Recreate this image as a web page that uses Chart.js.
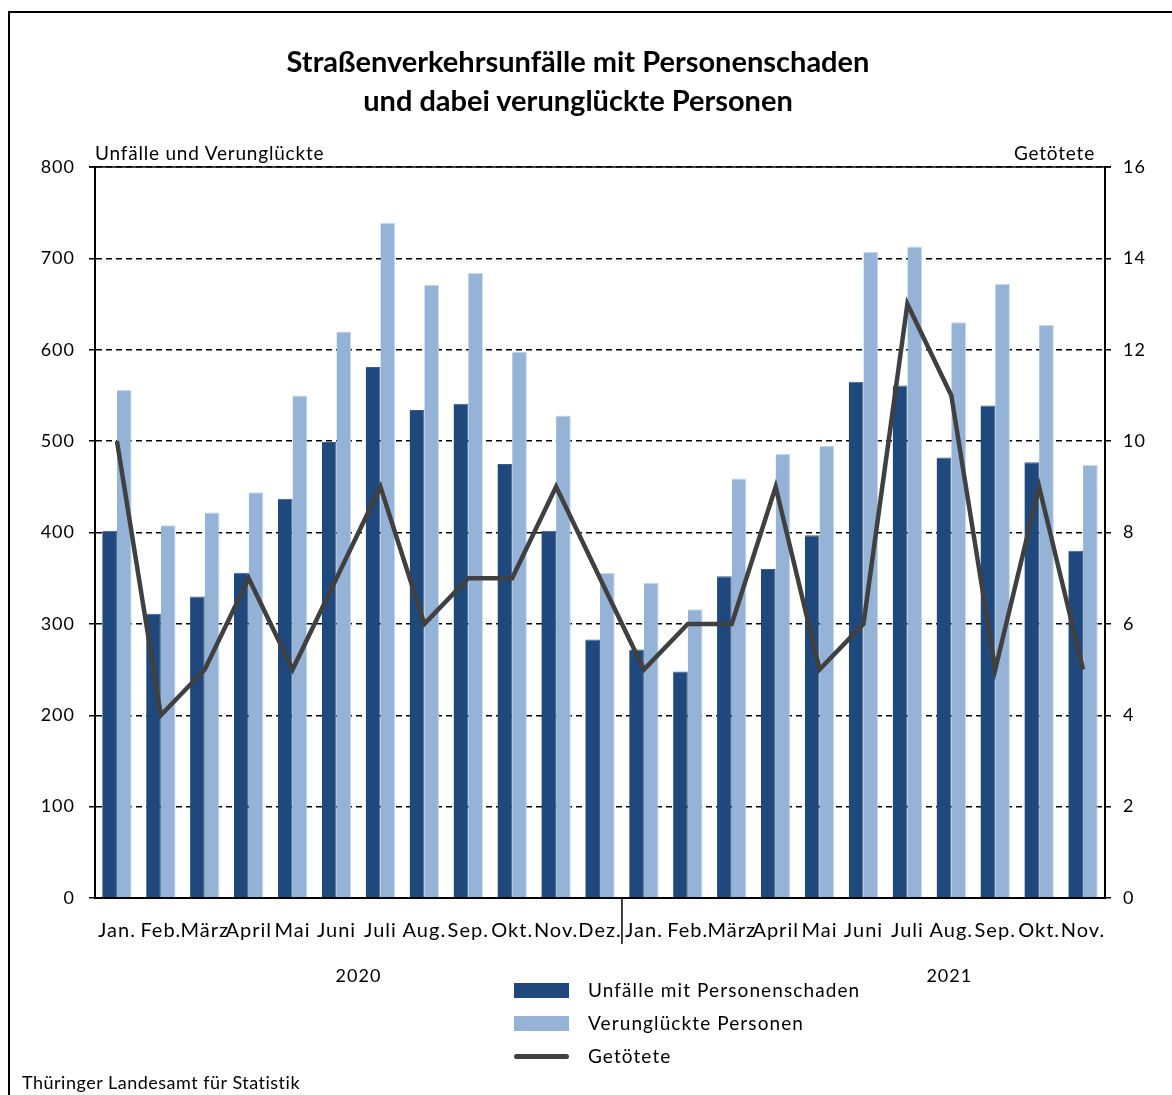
<!DOCTYPE html>
<html>
<head>
<meta charset="utf-8">
<script src="https://cdn.jsdelivr.net/npm/chart.js@4"></script>
<style>
  body { margin: 0; background: #fff; font-family: Lato, "Noto Sans", sans-serif; }
  #wrap { position: relative; width: 1172px; height: 1095px; overflow: hidden; }
  #frame { position: absolute; left: 8px; top: 11px; width: 1200px; height: 1200px;
           border-left: 2px solid #000; border-top: 2px solid #000; }
  canvas { position: absolute; left: 0; top: 0; }
  .txt { position: absolute; color: #000; white-space: nowrap; }
  #title { left: 0; width: 1156px; top: 41px; text-align: center; font-weight: bold; font-size: 29px; line-height: 39px; }
  .axt { top: 141px; font-size: 19px; letter-spacing: 0.8px; }
  .leg { font-size: 19px; left: 588px; letter-spacing: 1.1px; }
  .sw { position: absolute; left: 514px; width: 55px; }
</style>
</head>
<body>
<div id="wrap">
  <div id="frame"></div>
  <canvas id="chart" width="1172" height="1095"></canvas>
  <div id="title" class="txt">Straßenverkehrsunfälle mit Personenschaden<br>und dabei verunglückte Personen</div>
  <div class="txt axt" style="left:95px">Unfälle und Verunglückte</div>
  <div class="txt axt" style="right:77px">Getötete</div>
  <div class="sw" style="top:983px;height:15px;background:#1F497D"></div>
  <div class="sw" style="top:1016px;height:15px;background:#95B3D7"></div>
  <div class="sw" style="top:1054px;height:5px;border-radius:3px;background:#404040"></div>
  <div class="txt leg" style="top:978px">Unfälle mit Personenschaden</div>
  <div class="txt leg" style="top:1011px">Verunglückte Personen</div>
  <div class="txt leg" style="top:1044px">Getötete</div>
  <div class="txt" style="left:22px;top:1071px;font-size:18px;letter-spacing:0.5px">Thüringer Landesamt für Statistik</div>
</div>
<script>
// Monate Jan. 2020 bis Nov. 2021
const months = ['Jan.', 'Feb.', 'März', 'April', 'Mai', 'Juni', 'Juli', 'Aug.', 'Sep.', 'Okt.', 'Nov.', 'Dez.',
                'Jan.', 'Feb.', 'März', 'April', 'Mai', 'Juni', 'Juli', 'Aug.', 'Sep.', 'Okt.', 'Nov.'];
const years = ['2020', '2021'];
const unfaelle = [402, 311, 330, 356, 437, 499, 581, 534, 541, 475, 402, 283,
                  272, 248, 352, 360, 397, 565, 561, 482, 539, 477, 380];
const verunglueckte = [556, 408, 422, 444, 550, 620, 739, 671, 684, 598, 528, 356,
                       345, 316, 459, 486, 495, 707, 713, 630, 672, 627, 474];
const getoetete = [10, 4, 5, 7, 5, 7, 9, 6, 7, 7, 9, 7,
                   5, 6, 6, 9, 5, 6, 13, 11, 5, 9, 5];

const FONT = 'Lato, "Noto Sans", sans-serif';

// wider letter spacing like the original font
const spacing = {
  id: 'spacing',
  beforeDraw(chart) { chart.ctx.letterSpacing = '1px'; }
};

// Extras: solid top line, year separator and year labels
const extras = {
  id: 'extras',
  afterDraw(chart) {
    const { ctx, chartArea: a, scales: { x } } = chart;
    ctx.save();
    ctx.strokeStyle = '#000';
    ctx.lineWidth = 1.5;
    ctx.beginPath();
    ctx.moveTo(a.left - 6, a.top);
    ctx.lineTo(a.right + 6, a.top);
    ctx.stroke();
    const sep = (x.getPixelForValue(11) + x.getPixelForValue(12)) / 2;
    ctx.beginPath();
    ctx.moveTo(sep, a.bottom);
    ctx.lineTo(sep, a.bottom + 46);
    ctx.stroke();
    ctx.fillStyle = '#000';
    ctx.font = '18px ' + FONT;
    ctx.textAlign = 'center';
    ctx.textBaseline = 'middle';
    ctx.fillText(years[0], (x.getPixelForValue(5) + x.getPixelForValue(6)) / 2, a.bottom + 78);
    ctx.fillText(years[1], x.getPixelForValue(19) - 2, a.bottom + 78);
    ctx.restore();
  }
};

new Chart(document.getElementById('chart'), {
  data: {
    labels: months,
    datasets: [
      { type: 'line', label: 'Getötete', data: getoetete, yAxisID: 'y2', order: 0,
        borderColor: '#404040', borderWidth: 4.5, pointRadius: 0, tension: 0, borderJoinStyle: 'miter' },
      { type: 'bar', label: 'Unfälle mit Personenschaden', data: unfaelle, yAxisID: 'y', order: 1,
        backgroundColor: '#1F497D', borderColor: '#3A5F8E', borderWidth: { left: 0, right: 1, top: 1, bottom: 0 },
        categoryPercentage: 0.67, barPercentage: 1 },
      { type: 'bar', label: 'Verunglückte Personen', data: verunglueckte, yAxisID: 'y', order: 1,
        backgroundColor: '#95B3D7', borderColor: '#C8D8EC', borderWidth: { left: 0, right: 1, top: 1, bottom: 0 },
        categoryPercentage: 0.67, barPercentage: 1 }
    ]
  },
  options: {
    responsive: false,
    animation: false,
    layout: { padding: { top: 167, left: 0, right: 0, bottom: 0 } },
    plugins: { legend: { display: false }, tooltip: { enabled: false } },
    scales: {
      x: {
        grid: { display: false },
        border: { display: true, color: '#000', width: 2 },
        ticks: { color: '#000', font: { family: FONT, size: 20 }, padding: 13, autoSkip: false, maxRotation: 0 },
        afterFit(s) { s.height = 197; }
      },
      y: {
        position: 'left', min: 0, max: 800,
        ticks: { stepSize: 100, color: '#000', font: { family: FONT, size: 18 }, padding: 14 },
        grid: { color: '#000', lineWidth: 1.5, tickLength: 6, tickColor: '#000' },
        border: { display: true, color: '#000', width: 2, dash: [6, 4] },
        afterFit(s) { s.width = 95; }
      },
      y2: {
        position: 'right', min: 0, max: 16,
        ticks: { stepSize: 2, color: '#000', font: { family: FONT, size: 18 }, padding: 12 },
        grid: { drawOnChartArea: false, tickLength: 6, tickColor: '#000', lineWidth: 1.5 },
        border: { display: true, color: '#000', width: 2 },
        afterFit(s) { s.width = 67; }
      }
    }
  },
  plugins: [spacing, extras]
});
</script>
</body>
</html>
